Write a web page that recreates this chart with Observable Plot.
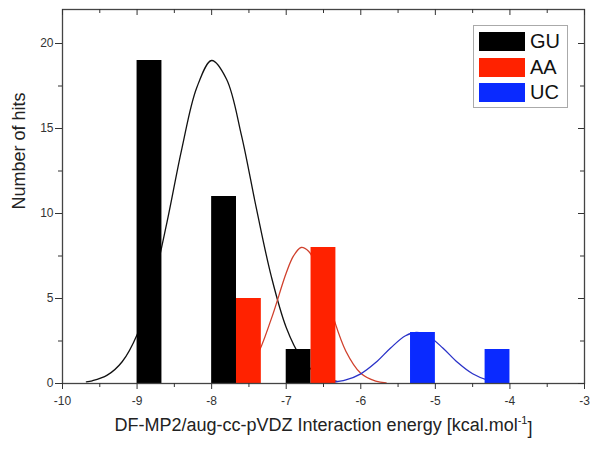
<!DOCTYPE html>
<html>
<head>
<meta charset="utf-8">
<script src="https://cdn.jsdelivr.net/npm/d3@7"></script>
<script src="https://cdn.jsdelivr.net/npm/@observablehq/plot@0.6"></script>
<style>
  body { margin: 0; background: #fff; font-family: "Liberation Sans", Arial, sans-serif; }
  #wrap { position: relative; width: 600px; height: 449px; }
  #legend { position: absolute; left: 473px; top: 25px; width: 93px; height: 81px; border: 1px solid #aaa; background: #fff; }
  .sw { position: absolute; left: 5px; width: 46px; height: 19px; }
  .lb { position: absolute; left: 56px; font-size: 20px; line-height: 19px; color: #111; }
</style>
</head>
<body>
<div id="wrap"></div>
<script>
// ---- data ----
const seriesNames = ["GU", "AA", "UC"];
const seriesColors = ["#000000", "#ff2200", "#0a2aff"];
const fitColors = ["#111111", "#d0402c", "#2a32c8"];

// histogram bins (left edge of each bar, kcal/mol) and counts
const guBinStart = [-9, -8, -7];
const guCounts = [19, 11, 2];
const aaBinStart = [-7.667, -6.667];
const aaCounts = [5, 8];
const ucBinStart = [-5.333, -4.333];
const ucCounts = [3, 2];
const binWidth = 1 / 3;

// fitted curves
const guFitX = [-9.68, -9.6, -9.4, -9.2, -9.0, -8.8, -8.6, -8.4, -8.2, -8.0, -7.8, -7.6, -7.4, -7.2, -7.0, -6.8, -6.6, -6.4, -6.32];
const guFitY = [0.10, 0.16, 0.49, 1.28, 2.87, 5.61, 9.46, 13.8, 17.4, 19.0, 17.9, 14.6, 10.3, 6.3, 3.3, 1.52, 0.60, 0.21, 0.13];
const aaFitX = [-7.92, -7.8, -7.6, -7.4, -7.2, -7.0, -6.9, -6.8, -6.7, -6.6, -6.4, -6.2, -6.0, -5.8, -5.66];
const aaFitY = [0.03, 0.10, 0.46, 1.57, 3.8, 6.5, 7.52, 8.0, 7.78, 7.0, 4.3, 1.9, 0.6, 0.14, 0.04];
const ucFitX = [-6.53, -6.4, -6.2, -6.0, -5.8, -5.6, -5.4, -5.25, -5.1, -4.9, -4.7, -4.5, -4.3, -4.1];
const ucFitY = [0.02, 0.06, 0.21, 0.57, 1.23, 2.09, 2.81, 3.0, 2.81, 2.09, 1.23, 0.57, 0.2, 0.05];

const xMajorTicks = [-10, -9, -8, -7, -6, -5, -4, -3];
const xMinorTicks = [-9.5, -8.5, -7.5, -6.5, -5.5, -4.5, -3.5];
const yMajorTicks = [0, 5, 10, 15, 20];
const yMinorTicks = [2.5, 7.5, 12.5, 17.5];

const xTitleMain = "DF-MP2/aug-cc-pVDZ Interaction energy [kcal.mol";
const xTitleSup = "-1";
const xTitleEnd = "]";
const yTitle = "Number of hits";

// ---- build tables ----
const binStarts = [guBinStart, aaBinStart, ucBinStart];
const binCounts = [guCounts, aaCounts, ucCounts];
const bars = [];
seriesNames.forEach((s, i) => binStarts[i].forEach((x, j) => bars.push({series: s, x1: x, x2: x + binWidth, y: binCounts[i][j]})));
const fitXs = [guFitX, aaFitX, ucFitX];
const fitYs = [guFitY, aaFitY, ucFitY];
const fits = seriesNames.map((s, i) => fitXs[i].map((x, j) => ({series: s, x, y: fitYs[i][j]})));

const fmt = d => String(d);
const axisColor = "#444";
const none = () => "";

const chart = Plot.plot({
  width: 600,
  height: 449,
  marginLeft: 62,
  marginRight: 16,
  marginTop: 9,
  marginBottom: 66,
  style: {fontFamily: "'Liberation Sans', Arial, sans-serif", fontSize: "12px", color: "#333", background: "#fff"},
  x: {domain: [-10, -3]},
  y: {domain: [0, 22]},
  color: {domain: seriesNames, range: seriesColors},
  marks: [
    ...fits.map((f, i) => Plot.line(f, {x: "x", y: "y", stroke: fitColors[i], strokeWidth: 1.3, curve: "catmull-rom"})),
    Plot.rectY(bars, {x1: "x1", x2: "x2", y1: 0, y2: "y", fill: "series"}),
    Plot.frame({stroke: axisColor, strokeWidth: 1.3}),
    // left axis (outward)
    Plot.axisY({ticks: yMajorTicks, tickSize: 7, tickPadding: 2, tickFormat: fmt, label: null, color: "#333", fontSize: 12}),
    Plot.axisY({ticks: yMinorTicks, tickSize: 4, tickFormat: none, label: null, color: "#333"}),
    // right axis: ticks pointing inward
    Plot.axisY({anchor: "left", frameAnchor: "right", ticks: yMajorTicks, tickSize: 6, tickFormat: none, label: null, color: "#333", dx: 0}),
    Plot.axisY({anchor: "left", frameAnchor: "right", ticks: yMinorTicks, tickSize: 4, tickFormat: none, label: null, color: "#333"}),
    // bottom axis (outward)
    Plot.axisX({ticks: xMajorTicks, tickSize: 6, tickPadding: 7, tickFormat: fmt, label: null, color: "#333", fontSize: 12}),
    Plot.axisX({ticks: xMinorTicks, tickSize: 4, tickFormat: none, label: null, color: "#333"}),
    // top axis: ticks pointing inward
    Plot.axisX({anchor: "bottom", frameAnchor: "top", ticks: xMajorTicks, tickSize: 6, tickFormat: none, label: null, color: "#333"}),
    Plot.axisX({anchor: "bottom", frameAnchor: "top", ticks: xMinorTicks, tickSize: 4, tickFormat: none, label: null, color: "#333"}),
    Plot.text([xTitleMain], {text: d => d, frameAnchor: "bottom", dy: 47, fontSize: 18, fill: "#222"}),
    Plot.text([yTitle], {text: d => d, frameAnchor: "left", rotate: -90, dx: -43, dy: 13, fontSize: 18, fill: "#222"})
  ]
});

// superscript in the x title
d3.select(chart).selectAll("text").filter(function() { return this.textContent === xTitleMain; }).each(function() {
  const t = d3.select(this);
  t.append("tspan").attr("dy", "-0.55em").attr("font-size", "11").text(xTitleSup);
  t.append("tspan").attr("dy", "0.55em").text(xTitleEnd);
});

const wrap = document.getElementById("wrap");
wrap.appendChild(chart);

// legend inside the plot area
const legend = document.createElement("div");
legend.id = "legend";
seriesNames.forEach((s, i) => {
  const sw = document.createElement("div");
  sw.className = "sw";
  sw.style.top = (6 + i * 25.5) + "px";
  sw.style.background = seriesColors[i];
  legend.appendChild(sw);
  const lb = document.createElement("div");
  lb.className = "lb";
  lb.style.top = (6 + i * 25.5) + "px";
  lb.textContent = s;
  legend.appendChild(lb);
});
wrap.appendChild(legend);
</script>
</body>
</html>
